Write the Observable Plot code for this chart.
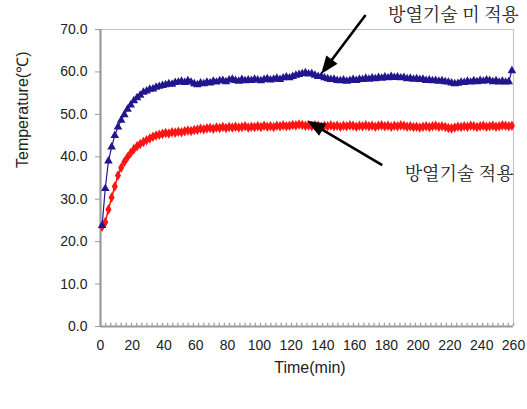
<!DOCTYPE html>
<html>
<head>
<meta charset="utf-8">
<script src="https://cdn.jsdelivr.net/npm/d3@7"></script>
<script src="https://cdn.jsdelivr.net/npm/@observablehq/plot@0.6"></script>
<style>
  html, body { margin: 0; padding: 0; background: #fff; }
  #chart svg { display: block; }
</style>
</head>
<body>
<div id="chart"></div>
<script>
// Sample times (min), one reading every 2 minutes
const times = d3.range(1, 260, 2);

// 방열기술 미 적용 (without heat dissipation)
const seriesBlue = [
  23.8, 32.5, 39.0, 42.3, 45.0, 47.0, 48.6, 49.9, 51.2, 52.2,
  53.2, 53.9, 54.5, 55.2, 55.5, 55.9, 56.0, 56.4, 56.6, 56.8,
  57.0, 57.2, 57.1, 57.5, 57.6, 57.8, 57.5, 57.9, 57.6, 57.2,
  57.0, 57.4, 57.2, 57.6, 57.4, 57.8, 57.6, 57.9, 58.0, 57.7,
  58.1, 58.3, 58.0, 57.8, 58.2, 57.9, 58.1, 58.0, 58.3, 58.1,
  57.9, 58.2, 58.4, 58.1, 58.3, 58.5, 58.2, 58.6, 58.8, 58.6,
  58.9, 59.2, 59.4, 59.6, 59.8, 59.5, 59.6, 59.2, 58.9, 59.0,
  58.6, 58.4, 58.2, 58.3, 58.0, 57.9, 58.1, 57.8, 58.0, 58.2,
  58.0, 58.3, 58.2, 58.5, 58.3, 58.6, 58.4, 58.7, 58.5, 58.8,
  58.6, 58.9, 58.7, 58.8, 58.6, 58.7, 58.4, 58.5, 58.3, 58.4,
  58.2, 58.3, 58.0, 58.1, 57.9, 58.0, 57.8, 57.9, 57.7, 57.6,
  57.4, 57.2, 57.3, 57.6, 57.5, 57.8, 57.6, 57.9, 57.7, 58.0,
  57.8, 58.1, 58.0, 57.7, 57.9, 57.6, 57.8, 57.6, 57.7, 60.3
];

// 방열기술 적용 (with heat dissipation)
const seriesRed = [
  23.5, 24.6, 27.6, 30.4, 33.0, 35.6, 37.4, 38.8, 39.9, 40.9,
  41.8, 42.5, 43.0, 43.5, 43.9, 44.3, 44.7, 45.0, 45.2, 45.4,
  45.6, 45.5, 45.8, 45.7, 45.9, 45.8, 46.0, 46.2, 46.1, 46.3,
  46.4, 46.6, 46.5, 46.7, 46.8, 46.6, 46.9, 46.8, 47.0, 46.8,
  47.0, 46.9, 47.1, 46.9, 47.0, 47.2, 46.9, 47.1, 47.0, 47.2,
  47.0, 47.3, 47.1, 47.2, 47.0, 47.3, 47.2, 47.4, 47.2, 47.3,
  47.5, 47.4, 47.6, 47.5, 47.3, 47.4, 47.2, 47.4, 47.3, 47.1,
  47.3, 47.2, 47.4, 47.2, 47.3, 47.1, 47.3, 47.2, 47.4, 47.3,
  47.1, 47.3, 47.2, 47.4, 47.2, 47.3, 47.1, 47.3, 47.4, 47.2,
  47.3, 47.1, 47.3, 47.2, 47.4, 47.3, 47.1, 47.2, 47.0, 47.1,
  46.9, 47.1, 47.2, 47.0, 47.2, 47.3, 47.1, 47.2, 47.0, 46.8,
  46.7, 46.9, 47.1, 47.0, 47.2, 47.1, 47.3, 47.2, 47.0, 47.2,
  47.3, 47.1, 47.2, 47.3, 47.1, 47.2, 47.4, 47.3, 47.2, 47.3
];

const xTicks = [0, 20, 40, 60, 80, 100, 120, 140, 160, 180, 200, 220, 240, 260];
const yTicks = [0, 10, 20, 30, 40, 50, 60, 70];
const xLabel = "Time(min)";
const yLabel = "Temperature(℃)";
const labelBlue = "방열기술 미 적용";
const labelRed = "방열기술 적용";

// annotation anchors (data coordinates)
const annotations = [
  {text: labelBlue, x: 181, y: 73.3, tx: 167.2, ty: 73.3, hx: 139.2, hy: 59.4},
  {text: labelRed, x: 191.5, y: 35.8, tx: 177.7, ty: 37.9, hx: 130.4, hy: 48.4}
];

const blueData = times.map((t, i) => ({t, v: seriesBlue[i]}));
const redData = times.map((t, i) => ({t, v: seriesRed[i]}));
const minorTicks = d3.range(0, 260.01, 260 / 80);

const BLUE = "#22168e";
const RED = "#ff1414";
const FONT = "'Liberation Sans', Arial, sans-serif";
const KFONT = "'Noto Serif CJK KR', 'Noto Sans CJK KR', sans-serif";

function arrows(index, scales, values, dimensions) {
  const g = d3.create("svg:g");
  for (const a of annotations) {
    const x1 = scales.x(a.tx), y1 = scales.y(a.ty);
    const x2 = scales.x(a.hx), y2 = scales.y(a.hy);
    const ang = Math.atan2(y2 - y1, x2 - x1);
    const L = 18, W = 7;
    const bx = x2 - L * Math.cos(ang), by = y2 - L * Math.sin(ang);
    g.append("line").attr("x1", x1).attr("y1", y1).attr("x2", bx + 2 * Math.cos(ang)).attr("y2", by + 2 * Math.sin(ang))
      .attr("stroke", "#000").attr("stroke-width", 2.6);
    const px = -Math.sin(ang), py = Math.cos(ang);
    g.append("polygon")
      .attr("points", `${x2},${y2} ${bx + W * px},${by + W * py} ${bx - W * px},${by - W * py}`)
      .attr("fill", "#000");
  }
  return g.node();
}

const chart = Plot.plot({
  width: 527,
  height: 409,
  marginLeft: 100,
  marginRight: 14,
  marginTop: 29,
  marginBottom: 83,
  style: {fontFamily: FONT, fontSize: "14px", color: "#222", background: "#fff", overflow: "visible"},
  x: {domain: [0, 260]},
  y: {domain: [0, 70]},
  marks: [
    Plot.ruleY([70], {stroke: "#c4c4c4", strokeWidth: 1.2}),
    Plot.ruleX([260], {stroke: "#c4c4c4", strokeWidth: 1.2}),
    Plot.ruleX(minorTicks, {x: d => d, y1: 0, y2: 0.75, stroke: "#a0a0a0", strokeWidth: 1.3}),
    Plot.axisX({ticks: xTicks, tickSize: 0, tickPadding: 14, tickFormat: d => String(d), label: null, fill: "#222", fontSize: 14}),
    Plot.axisY({ticks: yTicks, tickSize: 5, tickPadding: 8, tickFormat: d => d.toFixed(1), label: null, stroke: "#9a9a9a", fill: "#222", fontSize: 14}),
    Plot.ruleX([0], {stroke: "#9a9a9a", strokeWidth: 2.2}),
    Plot.ruleY([0], {stroke: "#9a9a9a", strokeWidth: 2.2}),
    Plot.line(redData, {x: "t", y: "v", stroke: RED, strokeWidth: 1.6}),
    Plot.dot(redData, {x: "t", y: "v", symbol: "diamond", r: 3.2, fill: RED, stroke: "none"}),
    Plot.line(blueData, {x: "t", y: "v", stroke: BLUE, strokeWidth: 1.2}),
    Plot.dot(blueData, {x: "t", y: "v", symbol: "triangle", r: 3.2, fill: BLUE, stroke: "none"}),
    arrows,
    Plot.text(annotations, {x: "x", y: "y", text: "text", textAnchor: "start", fontSize: 18, fontFamily: KFONT, fill: "#222"}),
    Plot.text([xLabel], {frameAnchor: "bottom", lineAnchor: "middle", dy: 41, dx: 3, fontSize: 16, fill: "#222"}),
    Plot.text([yLabel], {frameAnchor: "left", lineAnchor: "middle", rotate: -90, dx: -78, dy: -10, fontSize: 16, fill: "#222"})
  ]
});

document.getElementById("chart").appendChild(chart);
</script>
</body>
</html>
